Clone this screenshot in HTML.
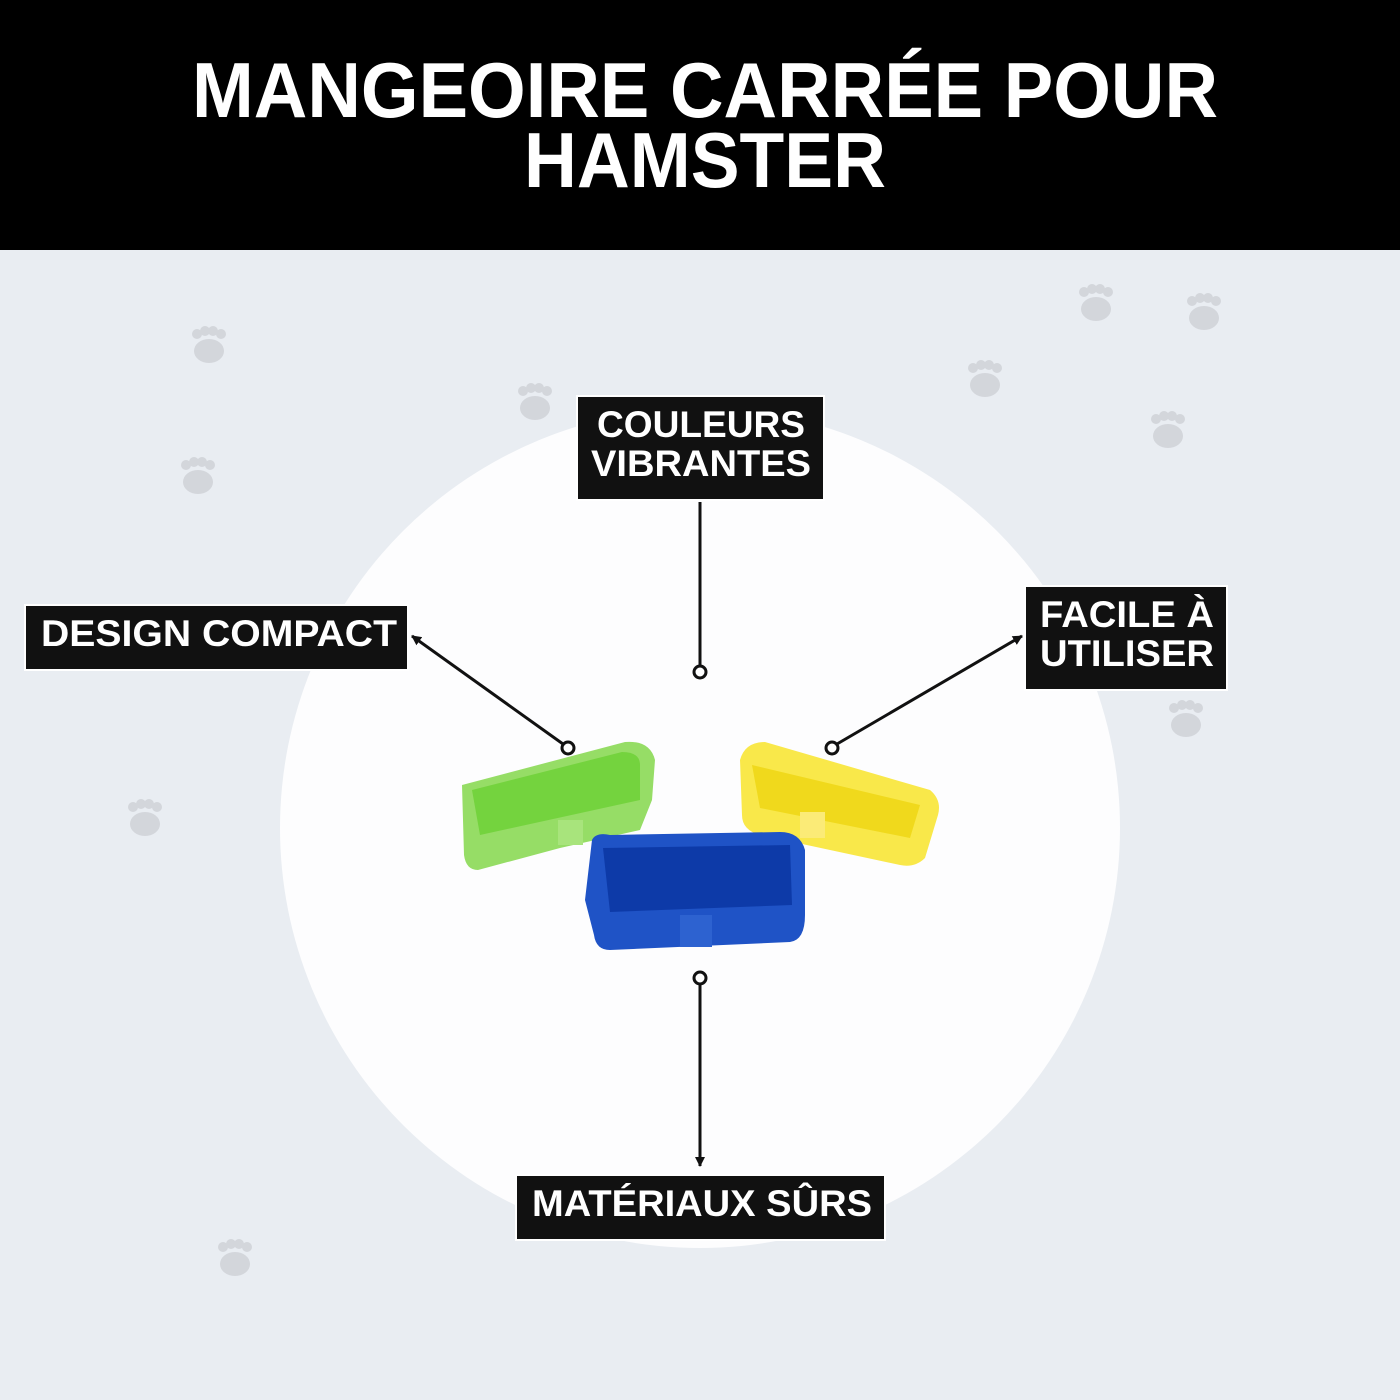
<!DOCTYPE html>
<html><head><meta charset="utf-8"><style>
html,body{margin:0;padding:0;width:1400px;height:1400px;overflow:hidden;background:#e9edf2;font-family:"Liberation Sans",sans-serif}
</style></head><body>
<svg width="1400" height="1400" viewBox="0 0 1400 1400" xmlns="http://www.w3.org/2000/svg">
<defs>
<g id="paw"><ellipse cx="0" cy="6" rx="15" ry="12" fill="#d3d6db"/><circle cx="-12" cy="-11" r="5" fill="#d3d6db"/><circle cx="-4" cy="-14" r="5" fill="#d3d6db"/><circle cx="4" cy="-14" r="5" fill="#d3d6db"/><circle cx="12" cy="-11" r="5" fill="#d3d6db"/></g>
<marker id="ar" markerWidth="12" markerHeight="12" refX="9" refY="6" orient="auto" markerUnits="userSpaceOnUse"><path d="M0,1 L10,6 L0,11 z" fill="#111"/></marker>
</defs>
<rect x="0" y="0" width="1400" height="250" fill="#000"/>
<g font-weight="bold" fill="#fff" font-size="78" text-anchor="middle">
<text x="705" y="117" textLength="1026" lengthAdjust="spacingAndGlyphs">MANGEOIRE CARRÉE POUR</text>
<text x="705" y="187" textLength="362" lengthAdjust="spacingAndGlyphs">HAMSTER</text>
</g>
<use href="#paw" x="209" y="345"/><use href="#paw" x="535" y="402"/><use href="#paw" x="198" y="476"/><use href="#paw" x="145" y="818"/><use href="#paw" x="235" y="1258"/><use href="#paw" x="1096" y="303"/><use href="#paw" x="1204" y="312"/><use href="#paw" x="985" y="379"/><use href="#paw" x="1168" y="430"/><use href="#paw" x="1186" y="719"/>
<circle cx="700" cy="828" r="420" fill="#fdfdfe"/>
<!-- green bin -->
<path d="M462,785 L625,742 Q650,740 655,760 L652,800 L640,830 L560,848 L478,870 Q466,870 464,855 Z" fill="#96dd66"/>
<path d="M472,790 L622,752 Q640,752 640,765 L640,800 L480,835 Z" fill="#74d33e"/>
<rect x="558" y="820" width="25" height="25" fill="#a8e47c"/>
<!-- yellow bin -->
<path d="M740,760 Q745,742 765,742 L930,790 Q942,800 938,815 L925,858 Q915,868 900,865 L760,835 Q742,830 742,815 Z" fill="#f9e84a"/>
<path d="M752,765 L920,805 L910,838 L760,808 Z" fill="#f0d91c"/>
<rect x="800" y="812" width="25" height="26" fill="#fbeb77"/>
<!-- blue bin -->
<path d="M592,840 Q596,832 610,835 L780,832 Q800,832 805,850 L805,915 Q805,940 790,942 L610,950 Q596,950 594,935 L585,900 Z" fill="#1f53c6"/>
<path d="M603,848 L790,845 L792,905 L610,912 Z" fill="#0d3aa8"/>
<rect x="680" y="915" width="32" height="32" fill="#2d62d0"/>
<!-- connectors -->
<g stroke="#111" stroke-width="3" fill="none">
<line x1="700" y1="502" x2="700" y2="665"/>
<circle cx="700" cy="672" r="6" fill="#fff"/>
<line x1="563" y1="744" x2="412" y2="636" marker-end="url(#ar)"/>
<circle cx="568" cy="748" r="6" fill="#fff"/>
<line x1="837" y1="744" x2="1022" y2="636" marker-end="url(#ar)"/>
<circle cx="832" cy="748" r="6" fill="#fff"/>
<line x1="700" y1="984" x2="700" y2="1166" marker-end="url(#ar)"/>
<circle cx="700" cy="978" r="6" fill="#fff"/>
</g>
<!-- labels -->
<g stroke="#fff" stroke-width="2" fill="#111">
<rect x="577" y="396" width="247" height="104"/>
<rect x="25" y="605" width="383" height="65"/>
<rect x="1025" y="586" width="202" height="104"/>
<rect x="516" y="1175" width="369" height="65"/>
</g>
<g fill="#fff" font-weight="bold" font-size="37" text-anchor="middle">
<text x="701" y="437" textLength="208" lengthAdjust="spacingAndGlyphs">COULEURS</text>
<text x="701" y="476" textLength="220" lengthAdjust="spacingAndGlyphs">VIBRANTES</text>
<text x="219" y="646" textLength="356" lengthAdjust="spacingAndGlyphs">DESIGN COMPACT</text>
<text x="1127" y="627" textLength="174" lengthAdjust="spacingAndGlyphs">FACILE À</text>
<text x="1127" y="666" textLength="174" lengthAdjust="spacingAndGlyphs">UTILISER</text>
<text x="702" y="1216" textLength="340" lengthAdjust="spacingAndGlyphs">MATÉRIAUX SÛRS</text>
</g>
</svg>
</body></html>
